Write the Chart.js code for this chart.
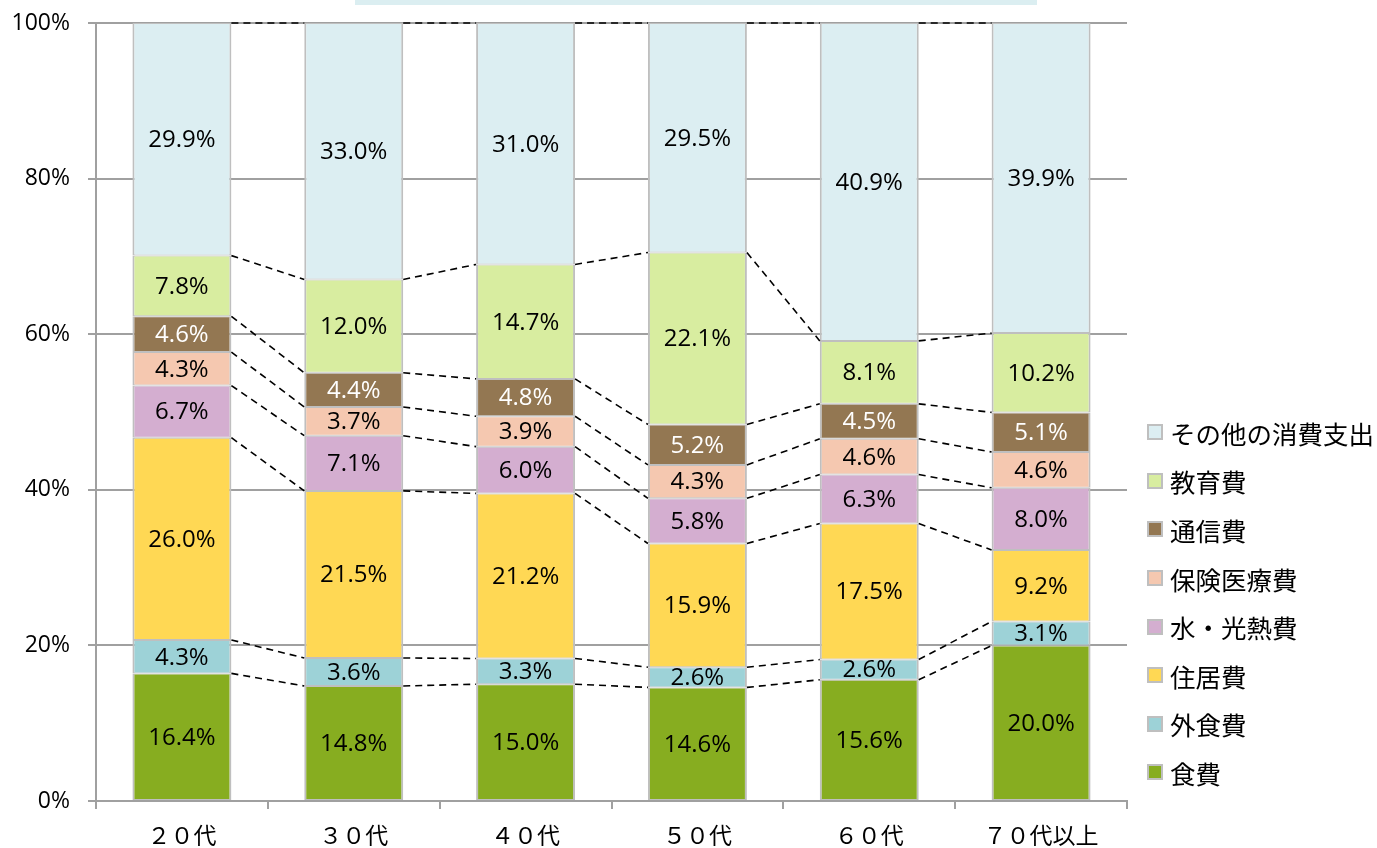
<!DOCTYPE html>
<html>
<head>
<meta charset="utf-8">
<script src="https://cdn.jsdelivr.net/npm/chart.js@4.4.1/dist/chart.umd.min.js"></script>
<style>
  html, body { margin: 0; padding: 0; background: #fff; }
  #wrap { position: relative; width: 1377px; height: 848px; }
  #topbox { position: absolute; left: 355px; top: 0; width: 682px; height: 5px; background: #dbeef1; }
  #legend { position: absolute; left: 1147px; top: 408px; font-family: "Noto Sans CJK JP", sans-serif; font-size: 25.5px; color: #000; }
  .row { display: flex; align-items: center; height: 48.6px; }
  .sw { width: 12px; height: 12px; border: 2px solid #bfbfbf; margin-right: 7px; flex: none; }
</style>
</head>
<body>
<div id="wrap">
  <canvas id="c" width="1377" height="848"></canvas>
  <div id="topbox"></div>
  <div id="legend"></div>
</div>
<script>
const categories = ["20代", "30代", "40代", "50代", "60代", "70代以上"];
const seriesNames = ["食費", "外食費", "住居費", "水・光熱費", "保険医療費", "通信費", "教育費", "その他の消費支出"];
const food      = [16.4, 14.8, 15.0, 14.6, 15.6, 20.0];
const eatingOut = [4.3, 3.6, 3.3, 2.6, 2.6, 3.1];
const housing   = [26.0, 21.5, 21.2, 15.9, 17.5, 9.2];
const utilities = [6.7, 7.1, 6.0, 5.8, 6.3, 8.0];
const medical   = [4.3, 3.7, 3.9, 4.3, 4.6, 4.6];
const telecom   = [4.6, 4.4, 4.8, 5.2, 4.5, 5.1];
const education = [7.8, 12.0, 14.7, 22.1, 8.1, 10.2];
const other     = [29.9, 33.0, 31.0, 29.5, 40.9, 39.9];
const yTicks = ["0%", "20%", "40%", "60%", "80%", "100%"];

const seriesValues = [food, eatingOut, housing, utilities, medical, telecom, education, other];
const colors = ["#87ad20", "#9dd2d7", "#ffd854", "#d4aed0", "#f5c8b0", "#937752", "#d8eda0", "#dceef2"];
const labelColors = ["#000", "#000", "#000", "#000", "#000", "#fff", "#000", "#000"];

// column totals to normalize to 100%
const totals = categories.map((_, i) => seriesValues.reduce((s, arr) => s + arr[i], 0));

const datasets = seriesValues.map((arr, k) => ({
  label: seriesNames[k],
  data: arr.map((v, i) => v * 100 / totals[i]),
  raw: arr,
  backgroundColor: colors[k],
  borderColor: "#bfbfbf",
  borderWidth: { top: 1, bottom: 1, left: 2, right: 2 },
  borderSkipped: false,
  barPercentage: 0.576,
  categoryPercentage: 1.0
}));

const toWide = (s) => s.replace(/[0-9]/g, (c) => String.fromCharCode(c.charCodeAt(0) + 0xFEE0));

const connectorPlugin = {
  id: "connectors",
  afterDatasetsDraw(chart) {
    const ctx = chart.ctx;
    ctx.save();
    ctx.strokeStyle = "#000";
    ctx.lineWidth = 1.6;
    ctx.setLineDash([7, 5]);
    chart.data.datasets.forEach((ds, d) => {
      const meta = chart.getDatasetMeta(d);
      for (let i = 0; i < meta.data.length - 1; i++) {
        const a = meta.data[i], b = meta.data[i + 1];
        ctx.beginPath();
        ctx.moveTo(a.x + a.width / 2, a.y);
        ctx.lineTo(b.x - b.width / 2, b.y);
        ctx.stroke();
      }
    });
    ctx.restore();

    // data labels
    ctx.save();
    ctx.font = '24px "Open Sans", sans-serif';
    ctx.textAlign = "center";
    ctx.textBaseline = "middle";
    chart.data.datasets.forEach((ds, d) => {
      const meta = chart.getDatasetMeta(d);
      meta.data.forEach((el, i) => {
        ctx.fillStyle = labelColors[d];
        ctx.fillText(ds.raw[i].toFixed(1) + "%", el.x, (el.y + el.base) / 2 + 1);
      });
    });
    ctx.restore();
  }
};

new Chart(document.getElementById("c"), {
  type: "bar",
  data: { labels: categories, datasets },
  options: {
    responsive: false,
    animation: false,
    layout: { padding: { left: 0, top: 23, right: 250, bottom: 0 } },
    plugins: { legend: { display: false }, tooltip: { enabled: false } },
    scales: {
      x: {
        stacked: true,
        grid: { offset: true, drawOnChartArea: false, drawTicks: true, tickLength: 8, color: "#a0a0a0", lineWidth: 2 },
        border: { display: true, color: "#a0a0a0", width: 2 },
        ticks: {
          font: { family: '"Noto Sans CJK JP", sans-serif', size: 23 },
          color: "#000",
          padding: 12,
          callback: function (v, i) { return toWide(categories[i]); }
        },
        afterFit(scale) { scale.height = 47; scale.paddingLeft = 0; scale.paddingRight = 0; }
      },
      y: {
        stacked: true,
        min: 0, max: 100,
        ticks: {
          stepSize: 20,
          font: { family: '"Open Sans", sans-serif', size: 23 },
          color: "#000",
          padding: 18,
          callback: (v) => yTicks[Math.round(v / 20)]
        },
        grid: { color: "#a0a0a0", lineWidth: 2, tickLength: 8 },
        border: { display: true, color: "#a0a0a0", width: 2 },
        afterFit(scale) { scale.width = 96; scale.paddingTop = 0; scale.paddingBottom = 0; }
      }
    }
  },
  plugins: [connectorPlugin]
});

// legend (reversed order)
const leg = document.getElementById("legend");
for (let k = seriesNames.length - 1; k >= 0; k--) {
  const row = document.createElement("div");
  row.className = "row";
  const sw = document.createElement("span");
  sw.className = "sw";
  sw.style.background = colors[k];
  const tx = document.createElement("span");
  tx.textContent = seriesNames[k];
  row.appendChild(sw);
  row.appendChild(tx);
  leg.appendChild(row);
}
</script>
</body>
</html>
